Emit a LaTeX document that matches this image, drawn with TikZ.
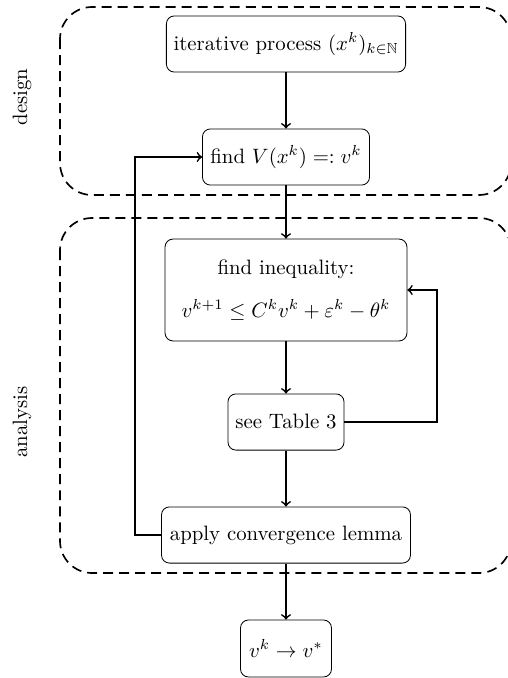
\documentclass[tikz,border=0pt]{standalone}
\usepackage{amsmath,amssymb}
\begin{document}
\begin{tikzpicture}[x=0.4808pt,y=-0.4808pt,
  box/.style={draw, rounded corners=3.8pt, minimum height=27pt, inner sep=3.4pt, line width=0.4pt, align=center},
  conn/.style={->, thick},
  region/.style={thick, dash pattern=on 4.8pt off 2.9pt, rounded corners=15.4pt},
  sidelabel/.style={rotate=90, inner sep=0pt}]
\useasboundingbox (0,0) rectangle (507,678);
% regions
\draw[region] (60,7) rectangle (511,195);
\draw[region] (60,218) rectangle (511,573);
\node[sidelabel] (design) at (22,97) {design};
\node[sidelabel] (analysis) at (22,422) {analysis};
% nodes
\node[box, minimum width=115pt] (iter) at (286,44) {iterative process $(x^k)_{k\in\mathbb{N}}$};
\node[box, minimum width=80.3pt] (findV) at (286,157) {find $V(x^k) =: v^k$};
\node[box, minimum width=116.3pt, minimum height=49pt] (ineq) at (286,290) {find inequality:\\[8.5pt] $v^{k+1} \le C^k v^k + \varepsilon^k - \theta^k$};
\node[box, minimum width=55.8pt] (table) at (286,422) {see Table 3};
\node[box, minimum width=119.7pt] (apply) at (286,535) {apply convergence lemma};
\node[box, minimum width=43.75pt, minimum height=27.4pt] (conv) at (286,648.5) {$v^k \to v^*$};
% connectors
\draw[conn] (iter) -- (findV);
\draw[conn] (findV) -- (ineq);
\draw[conn] (ineq) -- (table);
\draw[conn] (table) -- (apply);
\draw[conn] (apply) -- (conv);
\coordinate (L) at (135,157);
\coordinate (R) at (437,290);
\draw[conn] (apply.west) -| (L) -- (findV.west);
\draw[conn] (table.east) -| (R) -- (ineq.east);
\end{tikzpicture}
\end{document}
